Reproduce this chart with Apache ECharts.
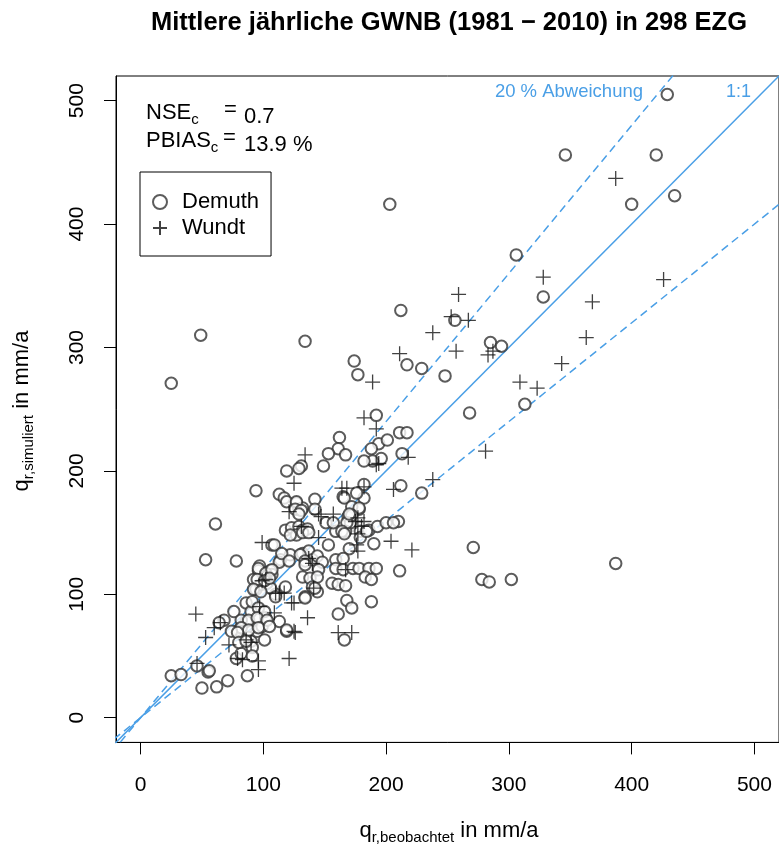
<!DOCTYPE html>
<html>
<head>
<meta charset="utf-8">
<script src="https://cdn.jsdelivr.net/npm/echarts@6/dist/echarts.min.js"></script>
<style>
  html, body { margin: 0; padding: 0; background: #fff; }
  #chart { width: 779px; height: 848px; }
</style>
</head>
<body>
<div id="chart"></div>
<script>
// Mean annual groundwater recharge: simulated vs observed (mm/a)
const axisTicks = [0, 100, 200, 300, 400, 500];
const axisRange = [-20, 520];
const refSlopes = [1, 1.2, 0.8];   // 1:1 line and the ±20 % band

// Demuth: [observed, simulated]
const demuth = [
  [429,505],[346,456],[420,456],[435,423],[400,416],[203,416],
  [306,375],[328,341],[49,310],[134,305],[212,330],[217,286],[229,283],[174,289],[177,278],[25,271],
  [256,322],[285,304],[294,301],[248,277],[192,245],[194,222],[211,231],[217,231],[201,225],[188,218],
  [213,214],[196,210],[189,208],[182,208],
  [162,227],[161,218],[167,213],[153,214],[149,204],[131,204],[129,202],[119,200],[94,184],[212,188],
  [229,182],[165,179],[313,254],[268,247],
  [271,138],[278,112],[284,110],[302,112],[387,125],[211,119],[210,159],
  [113,181],[117,178],[119,175],[127,174],[142,177],[166,178],[182,189],[182,178],[176,182],
  [129,169],[132,170],[142,169],[127,175],[126,169],[131,168],[129,165],
  [151,158],[169,163],[178,169],[171,158],[179,151],[167,151],[159,151],
  [118,152],[123,154],[129,155],[132,152],[136,153],[127,148],[132,150],[137,150],[122,148],
  [61,157],[153,140],[170,137],[179,146],[186,152],[193,155],[200,158],[206,158],[190,141],
  [107,140],[109,140],[114,128],[113,126],[122,132],[132,133],[137,135],[140,128],[144,131],[148,126],[145,120],
  [159,128],[165,129],[159,121],[165,120],[173,121],[178,121],[186,121],[192,121],[183,114],[188,112],
  [53,128],[78,127],[97,123],[96,119],[92,112],[94,104],[106,119],[107,116],[102,114],[98,108],[103,109],
  [110,100],[106,105],[118,106],
  [132,114],[138,113],[144,114],[140,106],[144,102],[142,105],[156,109],[161,108],[167,107],[134,98],
  [168,95],[172,89],[188,94],[161,84],[166,63],[119,70],
  [86,93],[90,86],[76,86],[68,79],[64,77],[80,71],[86,78],[88,65],[90,62],[95,70],[99,74],[102,81],
  [101,63],[91,57],[87,34],[55,37],[25,34],[33,35],[50,24],[62,25],[71,30],
  [115,133],[121,127],[130,132],[134,127],[96,121],[102,117],[107,120],[95,112],[101,111],[105,113],
  [92,104],[98,102],[110,98],[134,97],[91,94],[96,89],[101,86],
  [82,79],[88,79],[95,81],[103,79],[113,78],[82,73],[88,71],[96,73],[105,74],[119,71],[74,70],[79,69],
  [46,42],[56,38],[78,48],[82,52],[91,50],[80,61],[86,62],[134,124],
  [172,171],[178,170],[172,164],[168,158],[170,165],[157,158],[164,151],[166,149],[184,151]
];

// Wundt: [observed, simulated]
const wundt = [
  [387,437],[328,357],[426,355],[368,337],[363,308],[343,287],[259,343],[253,325],[267,322],[238,312],
  [211,295],[257,297],[283,294],[287,297],[309,272],[323,267],[189,272],[182,243],[192,234],[218,211],
  [194,206],[192,205],[134,213],[125,190],[206,185],[238,193],[164,186],[168,186],[182,187],[281,216],[221,136],
  [121,167],[145,165],[147,163],[157,165],[175,159],[182,159],[145,146],[176,140],[177,135],[204,143],
  [99,142],[137,129],[140,125],[167,120],[102,112],[99,111],[110,101],[117,101],[113,101],[125,93],
  [123,93],[141,105],[136,81],[161,69],[172,69],[126,69],[121,48],[86,63],[90,61],[79,48],[83,47],
  [96,46],[96,39],[45,84],[60,73],[53,65],[72,59],[46,44],[97,90],[109,85],[125,70],[65,77],
  [131,155],[177,162],[180,155],[177,149]
];

const FONT = "'Liberation Sans', Arial, sans-serif";
const BLUE = '#4a9fe6';
const PLUS = 'path://M0,5L10,5M5,0L5,10';

const G = { left: 116, top: 76, width: 666.4, height: 666.4 };

// reference lines across the whole axis range
const refLines = refSlopes.map((s, i) => ({
  type: 'line',
  name: 'ref' + i,
  data: [[axisRange[0] - 10, s * (axisRange[0] - 10)], [axisRange[1] + 60, s * (axisRange[1] + 60)]],
  showSymbol: false,
  symbol: 'none',
  clip: true,
  silent: true,
  lineStyle: { color: BLUE, width: 1.5, type: i === 0 ? 'solid' : [8, 5] },
  z: 1
}));

const subRich = (main, sub) => ({
  a: { fontSize: main, fontFamily: FONT, lineHeight: Math.round(main * 1.25), fill: '#000' },
  s: { fontSize: sub, fontFamily: FONT, lineHeight: sub, verticalAlign: 'bottom', fill: '#000' }
});

const chart = echarts.init(document.getElementById('chart'), null, { renderer: 'canvas' });

chart.setOption({
  animation: false,
  backgroundColor: '#fff',
  grid: Object.assign({ show: true, borderColor: '#000', borderWidth: 1, containLabel: false }, G),
  xAxis: {
    type: 'value', min: axisRange[0], max: axisRange[1],
    axisLine: { show: true, onZero: false, lineStyle: { color: '#000', width: 1 } },
    axisTick: { show: true, customValues: axisTicks, length: 12, lineStyle: { color: '#000', width: 1 } },
    axisLabel: { customValues: axisTicks, margin: 32, color: '#000', fontSize: 21, fontFamily: FONT },
    splitLine: { show: false }
  },
  yAxis: {
    type: 'value', min: axisRange[0], max: axisRange[1],
    axisLine: { show: true, onZero: false, lineStyle: { color: '#000', width: 1 } },
    axisTick: { show: true, customValues: axisTicks, length: 12, lineStyle: { color: '#000', width: 1 } },
    axisLabel: { customValues: axisTicks, margin: 28, rotate: 90, color: '#000', fontSize: 21, fontFamily: FONT },
    splitLine: { show: false }
  },
  legend: {
    orient: 'vertical',
    left: 140, top: 172,
    data: ['Demuth', 'Wundt'],
    borderColor: '#000', borderWidth: 1, borderRadius: 0,
    padding: [19, 12, 17, 12],
    itemGap: 4,
    itemWidth: 14, itemHeight: 14,
    textStyle: { fontSize: 22, lineHeight: 22, color: '#000', fontFamily: FONT, padding: [0, 0, 0, 10] }
  },
  series: [
    ...refLines,
    {
      type: 'scatter', name: 'Demuth', data: demuth,
      symbol: 'emptyCircle', symbolSize: 11.5,
      itemStyle: { color: '#333', borderColor: '#333', borderWidth: 1.25 },
      z: 3
    },
    {
      type: 'scatter', name: 'Wundt', data: wundt,
      symbol: PLUS, symbolSize: 15,
      itemStyle: { color: 'rgba(0,0,0,0)', borderColor: '#111', borderWidth: 1.3 },
      z: 4
    }
  ],
  graphic: [
    { type: 'text', x: 449, y: 23, style: { text: 'Mittlere jährliche GWNB (1981 − 2010) in 298 EZG',
      font: "bold 25.5px " + FONT, fill: '#000', textAlign: 'center', textVerticalAlign: 'middle' } },
    // statistics
    { type: 'text', x: 146, y: 113, style: { text: '{a|NSE}{s|c}', textVerticalAlign: 'middle', rich: subRich(22, 15) } },
    { type: 'text', x: 224, y: 110, style: { text: '=', font: '22px ' + FONT, fill: '#000', textVerticalAlign: 'middle' } },
    { type: 'text', x: 244, y: 117, style: { text: '0.7', font: '22px ' + FONT, fill: '#000', textVerticalAlign: 'middle' } },
    { type: 'text', x: 146, y: 141, style: { text: '{a|PBIAS}{s|c}', textVerticalAlign: 'middle', rich: subRich(22, 15) } },
    { type: 'text', x: 223, y: 138, style: { text: '=', font: '22px ' + FONT, fill: '#000', textVerticalAlign: 'middle' } },
    { type: 'text', x: 244, y: 145, style: { text: '13.9 %', font: '22px ' + FONT, fill: '#000', textVerticalAlign: 'middle' } },
    // reference line labels
    { type: 'text', x: 643, y: 92, style: { text: '20 % Abweichung', font: '18.5px ' + FONT, fill: BLUE, textAlign: 'right', textVerticalAlign: 'middle' } },
    { type: 'text', x: 751, y: 92, style: { text: '1:1', font: '18px ' + FONT, fill: BLUE, textAlign: 'right', textVerticalAlign: 'middle' } },
    // axis titles
    { type: 'text', x: 449, y: 831, style: { text: '{a|q}{s|r,beobachtet}{a| in mm/a}', textAlign: 'center', textVerticalAlign: 'middle', rich: subRich(22, 15) } },
    { type: 'text', x: 22, y: 411, rotation: Math.PI / 2, style: { text: '{a|q}{s|r,simuliert}{a| in mm/a}', textAlign: 'center', textVerticalAlign: 'middle', rich: subRich(22, 15) } }
  ]
});
</script>
</body>
</html>
